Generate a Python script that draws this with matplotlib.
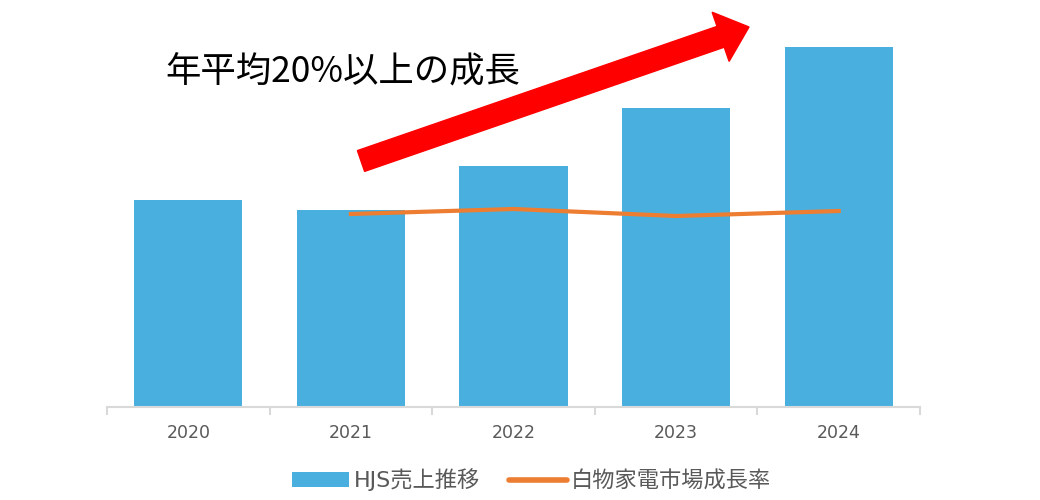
import numpy as np
import matplotlib.pyplot as plt
from matplotlib.patches import FancyArrow, Patch
from matplotlib.lines import Line2D

plt.rcParams['font.family'] = ['DejaVu Sans', 'Noto Sans CJK JP']

years = ['2020', '2021', '2022', '2023', '2024']
sales = [207, 197, 241, 299, 360]               # HJS売上推移 (bar height, arbitrary units)
market_years = ['2021', '2022', '2023', '2024']
market = [193, 198, 191, 196]                   # 白物家電市場成長率

bar_color = '#48AFDF'
line_color = '#ED7D31'
text_grey = '#595959'

fig = plt.figure(figsize=(10.4, 5), dpi=100)
ax = fig.add_axes([107 / 1040, 1 - 407 / 500, 813 / 1040, 407 / 500])

x = np.arange(len(years))
ax.bar(x, sales, width=0.665, color=bar_color, zorder=2)
mx = [years.index(y) for y in market_years]
ax.plot(mx, market, color=line_color, linewidth=3, zorder=3)

ax.set_xlim(-0.5, len(years) - 0.5)
ax.set_ylim(0, 407)
ax.set_yticks([])
for s in ['top', 'right', 'left']:
    ax.spines[s].set_visible(False)
ax.spines['bottom'].set_color('#D9D9D9')
ax.spines['bottom'].set_linewidth(1.5)

# category labels centred, tick marks at category boundaries
ax.set_xticks(x)
ax.set_xticklabels(years, fontsize=12.5, color=text_grey)
ax.tick_params(axis='x', which='major', length=0, pad=12)
ax.set_xticks(np.arange(-0.5, len(years)), minor=True)
ax.tick_params(axis='x', which='minor', length=6, width=1.5, color='#D9D9D9')

# red growth arrow (figure pixel coordinates)
arrow = FancyArrow(361, 500 - 161, 388, 134, width=22, head_width=52,
                   head_length=30, length_includes_head=True,
                   color='#FF0000', transform=None, zorder=5)
fig.patches.append(arrow)

fig.text(165 / 1040, 1 - 73 / 500, '年平均20%以上の成長', fontsize=25.5,
         family=['Noto Sans CJK JP'], color='black', va='center', ha='left')

handles = [Patch(facecolor=bar_color, edgecolor='none'),
           Line2D([0], [0], color=line_color, linewidth=4, solid_capstyle='round')]
fig.legend(handles, ['HJS売上推移', '白物家電市場成長率'], loc='center',
           bbox_to_anchor=(0.511, 1 - 480 / 500), ncol=2, frameon=False,
           fontsize=16, labelcolor=text_grey, handlelength=2.6,
           handletextpad=0.2, columnspacing=1.3)

fig.savefig('out.png', dpi=100)
